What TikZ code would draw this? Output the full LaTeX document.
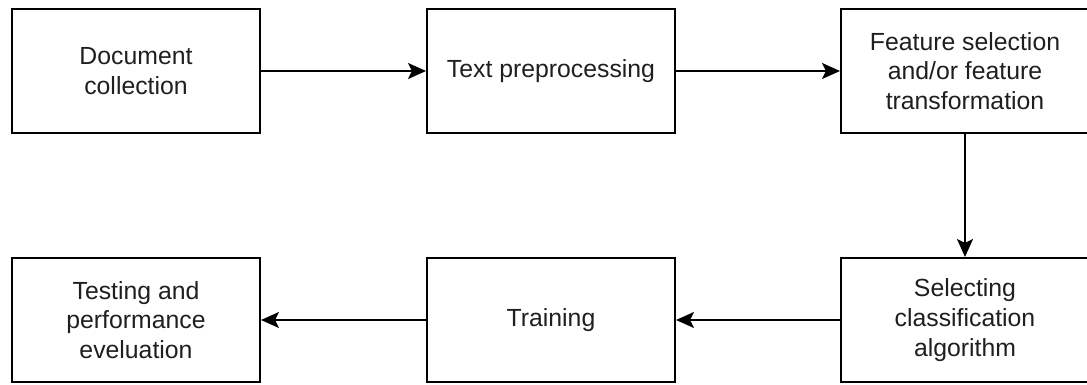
\documentclass[tikz,border=0pt]{standalone}
\usepackage{fontspec}
\setmainfont{Liberation Sans}
\usetikzlibrary{arrows.meta}
\begin{document}
\begin{tikzpicture}[x=1pt,y=-1pt,
  stepbox/.style={draw=black,line width=2pt,minimum width=248pt,minimum height=124pt,
    inner sep=0pt,align=center,text=black!88,
    font=\fontsize{24.8pt}{29.8pt}\selectfont},
  flow/.style={line width=2pt,-{Stealth[length=18pt,width=16pt,inset=4pt]}}]
\useasboundingbox (0,0) rectangle (1087,385);
% top row
\node[stepbox] (doc)  at (136,71)  {Document\\collection};
\node[stepbox] (pre)  at (551,71)  {Text preprocessing};
\node[stepbox] (feat) at (965,71)  {Feature selection\\and/or feature\\transformation};
% bottom row
\node[stepbox] (test) at (136,320) {Testing and\\performance\\eveluation};
\node[stepbox] (train) at (551,320) {Training};
\node[stepbox] (sel)  at (965,320) {Selecting\\classification\\algorithm};
% connectors
\draw[flow] (doc) -- (pre);
\draw[flow] (pre) -- (feat);
\draw[flow] (feat) -- (sel);
\draw[flow] (sel) -- (train);
\draw[flow] (train) -- (test);
\end{tikzpicture}
\end{document}
